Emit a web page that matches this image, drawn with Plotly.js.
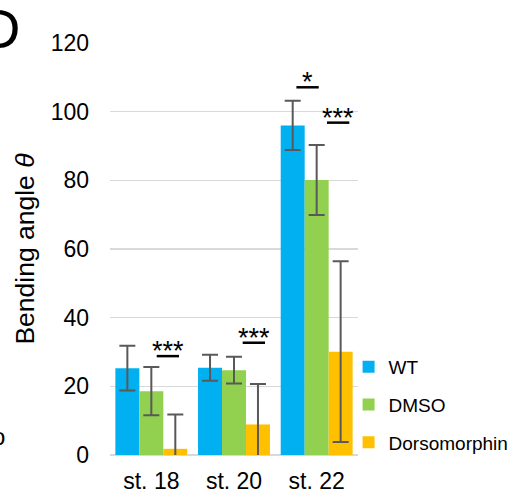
<!DOCTYPE html>
<html>
<head>
<meta charset="utf-8">
<script src="https://cdn.plot.ly/plotly-3.0.1.min.js"></script>
<style>html,body{margin:0;padding:0;background:#fff;}#chart{width:508px;height:494px;}</style>
</head>
<body>
<div id="chart"></div>
<script>
// ---- data ----
const categories = ['st. 18', 'st. 20', 'st. 22'];
const seriesNames = ['WT', 'DMSO', 'Dorsomorphin'];
const wtValues = [25.3, 25.4, 96.0];
const wtErrors = [6.5, 3.8, 7.2];
const dmsoValues = [18.6, 24.7, 80.1];
const dmsoErrors = [7.0, 3.9, 10.2];
const dorsValues = [1.8, 8.9, 30.1];
const dorsErrors = [10.0, 11.8, 26.3];
const yTickValues = [0, 20, 40, 60, 80, 100, 120];
const sigCategories = ['st. 18', 'st. 20', 'st. 22', 'st. 22'];
const sigLabels = ['***', '***', '*', '***'];
const sigLevels = [28.8, 32.7, 107.1, 96.8];

// ---- style / layout ----
const colors = ['#00B0F0', '#92D050', '#FFC000'];
const sigOffsets = [0.2, 0.24, -0.11, 0.26];
const sigHalfWidth = 0.135;
const font = 'Liberation Sans, Arial, sans-serif';

const vals = [wtValues, dmsoValues, dorsValues];
const errs = [wtErrors, dmsoErrors, dorsErrors];

const traces = seriesNames.map((name, i) => ({
  type: 'bar',
  name: name,
  x: categories,
  y: vals[i],
  legendgroup: name,
  marker: {color: colors[i]},
  error_y: {type: 'data', array: errs[i], visible: true, color: '#595959', thickness: 2, width: 8}
}));

const shapes = [];
const annotations = [];
sigCategories.forEach((c, i) => {
  const ci = categories.indexOf(c) + sigOffsets[i];
  shapes.push({type: 'line', xref: 'x', yref: 'y', x0: ci - sigHalfWidth, x1: ci + sigHalfWidth,
    y0: sigLevels[i], y1: sigLevels[i], line: {color: '#000', width: 2.5}});
  annotations.push({xref: 'x', yref: 'y', x: ci, y: sigLevels[i], text: sigLabels[i], showarrow: false,
    yanchor: 'bottom', yshift: -12, font: {family: font, size: 27, color: '#000'}});
});
annotations.push({xref: 'paper', yref: 'paper', x: -0.355, y: 0.955, xanchor: 'right', yanchor: 'bottom',
  text: 'D', showarrow: false, font: {family: font, size: 56, color: '#000'}});
annotations.push({xref: 'paper', yref: 'paper', x: -0.45, y: 0.045, xanchor: 'center', yanchor: 'middle',
  text: 'o', showarrow: false, font: {family: font, size: 24, color: '#000'}});

const layout = {
  width: 508, height: 494,
  margin: {l: 110, r: 150, t: 43, b: 39, autoexpand: false},
  paper_bgcolor: '#fff', plot_bgcolor: '#fff',
  barmode: 'group', bargap: 0.13, bargroupgap: 0,
  font: {family: font, size: 23, color: '#000'},
  xaxis: {type: 'category', showgrid: false, showline: false, ticks: '', zeroline: false,
    tickfont: {family: font, size: 23, color: '#000'}, ticklabelstandoff: 10},
  yaxis: {range: [0, 120], tickvals: yTickValues, showgrid: true, gridcolor: '#D9D9D9', gridwidth: 1.5,
    zeroline: true, zerolinecolor: '#D9D9D9', zerolinewidth: 1.5, showline: false, ticks: '',
    tickfont: {family: font, size: 23, color: '#000'}, ticklabelstandoff: 20,
    title: {text: 'Bending angle <i>θ</i>', font: {family: font, size: 26.5, color: '#000'}, standoff: 8}},
  showlegend: true,
  legend: {x: 0.962, y: 0.26, xanchor: 'left', yanchor: 'top', traceorder: 'grouped', tracegroupgap: 10,
    font: {family: font, size: 19, color: '#000'}, bgcolor: 'rgba(0,0,0,0)', itemwidth: 30},
  shapes: shapes,
  annotations: annotations
};

Plotly.newPlot('chart', traces, layout, {displayModeBar: false, staticPlot: true});
</script>
</body>
</html>
